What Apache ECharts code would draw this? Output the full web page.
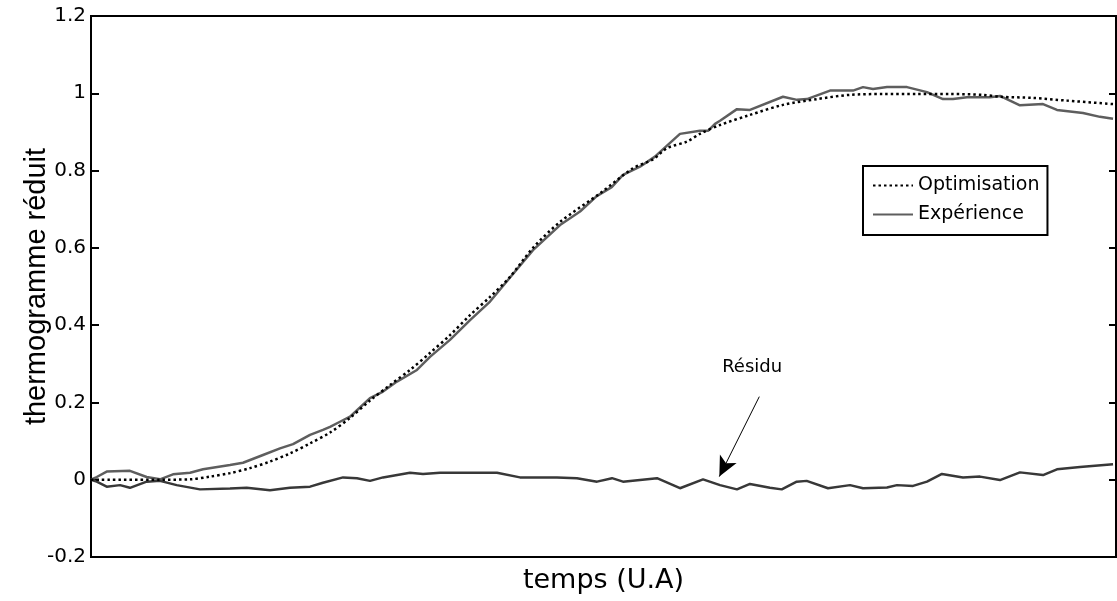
<!DOCTYPE html>
<html>
<head>
<meta charset="utf-8">
<script src="https://cdn.jsdelivr.net/npm/echarts@6/dist/echarts.min.js"></script>
<style>html,body{margin:0;padding:0;background:#fff;}#c{width:1117px;height:601px;}</style>
</head>
<body>
<div id="c"></div>
<script>
// Y tick labels
const yTicks = [-0.2, 0, 0.2, 0.4, 0.6, 0.8, 1, 1.2];

// Expérience (measured)
const expT = [0,0.56,1.53,3.80,5.43,6.73,8.00,9.66,10.93,13.56,14.83,16.78,18.44,19.71,21.37,22.63,23.32,24.29,25.27,27.22,28.49,29.85,31.80,33.07,35.02,36.98,38.93,40.68,43.12,45.76,47.71,49.34,50.80,51.90,53.56,55.02,56.17,57.46,59.41,60.20,60.88,61.37,63.02,64.29,67.51,68.88,69.85,72.10,74.34,75.32,76.29,77.66,79.61,81.56,83.12,84.10,85.46,87.71,88.68,90.63,92.88,94.24,96.78,98.44,99.71];
const expV = [0,0.007,0.021,0.023,0.007,0.001,0.014,0.018,0.027,0.038,0.044,0.064,0.081,0.092,0.116,0.129,0.137,0.150,0.163,0.211,0.228,0.254,0.284,0.318,0.362,0.413,0.461,0.517,0.594,0.659,0.694,0.734,0.757,0.789,0.810,0.836,0.864,0.895,0.903,0.903,0.921,0.929,0.959,0.957,0.991,0.983,0.985,1.007,1.007,1.016,1.011,1.016,1.016,1.003,0.985,0.985,0.990,0.990,0.993,0.969,0.972,0.957,0.949,0.939,0.934];

// Optimisation (model)
const optT = [0,6.73,9.66,11.61,13.56,15.51,17.46,19.41,21.37,23.32,25.27,27.22,29.17,31.12,33.07,35.02,36.98,38.93,40.88,43.12,45.76,49.66,52.88,54.83,56.20,58.15,59.41,61.37,64.29,67.51,70.83,74.05,77.27,80.59,83.80,87.02,88.68,91.90,95.22,99.71];
const optV = [0,0,0.001,0.008,0.017,0.030,0.047,0.068,0.094,0.122,0.160,0.205,0.245,0.284,0.328,0.374,0.426,0.473,0.525,0.600,0.667,0.741,0.806,0.829,0.858,0.875,0.895,0.918,0.944,0.970,0.985,0.996,0.998,0.998,0.998,0.996,0.991,0.988,0.981,0.972];

// Résidu
const resT = [0,0.56,1.53,2.83,3.80,5.43,6.73,8.36,10.63,13.56,15.19,17.46,19.41,21.37,22.63,24.59,25.95,27.22,28.49,31.12,32.39,34.05,36.98,39.61,41.85,45.46,47.41,49.37,50.83,51.90,55.22,57.46,59.71,61.37,63.02,64.29,66.24,67.39,68.85,69.82,71.90,74.05,75.32,77.66,78.63,80.20,81.56,83.02,85.07,86.73,88.68,90.63,92.88,94.24,96.49,99.71];
const resV = [0,-0.005,-0.018,-0.014,-0.021,-0.005,-0.003,-0.014,-0.025,-0.023,-0.021,-0.027,-0.021,-0.018,-0.008,0.006,0.004,-0.003,0.006,0.018,0.015,0.018,0.018,0.018,0.006,0.006,0.004,-0.005,0.004,-0.005,0.004,-0.022,0.001,-0.014,-0.025,-0.011,-0.021,-0.025,-0.005,-0.003,-0.022,-0.014,-0.022,-0.020,-0.014,-0.016,-0.005,0.015,0.006,0.008,-0.001,0.019,0.012,0.027,0.033,0.040];

const zip = (a, b) => a.map((t, i) => [t, b[i]]);
const H = "'DejaVu Sans', 'Liberation Sans', Arial, sans-serif";

const chart = echarts.init(document.getElementById('c'), null, {renderer: 'canvas'});
chart.setOption({
  animation: false,
  backgroundColor: '#fff',
  grid: {left: 91, right: 1, top: 16, bottom: 44, show: true, borderColor: '#000', borderWidth: 2, backgroundColor: 'transparent'},
  legend: {
    orient: 'vertical', left: 863, top: 166,
    padding: [10, 8, 11, 9], itemGap: 10, itemWidth: 40, itemHeight: 18,
    borderColor: '#000', borderWidth: 2, backgroundColor: '#fff',
    itemStyle: {opacity: 0},
    textStyle: {fontFamily: H, fontSize: 19, color: '#000'},
    data: ['Optimisation', 'Expérience']
  },
  xAxis: {
    type: 'value', min: 0, max: 100,
    name: 'temps (U.A)', nameLocation: 'middle', nameGap: 10, nameMoveOverlap: false,
    nameTextStyle: {fontFamily: H, fontSize: 27, color: '#000'},
    axisLine: {show: true, onZero: false, lineStyle: {color: '#000', width: 2}},
    axisTick: {show: false}, axisLabel: {show: false}, splitLine: {show: false}
  },
  yAxis: [{
    type: 'value', min: -0.2, max: 1.2, interval: 0.2,
    name: 'thermogramme réduit', nameLocation: 'middle', nameGap: 40, nameMoveOverlap: false,
    nameTextStyle: {fontFamily: "'Liberation Sans', Arial, sans-serif", fontSize: 29, color: '#000'},
    axisLine: {show: true, onZero: false, lineStyle: {color: '#000', width: 2}},
    axisTick: {show: true, inside: true, length: 8, lineStyle: {color: '#000', width: 2}},
    axisLabel: {fontFamily: H, fontSize: 20, color: '#000', margin: 5,
      formatter: v => { const r = Math.round(v * 10) / 10; return yTicks.indexOf(r) >= 0 ? String(r) : ''; }},
    splitLine: {show: false}
  }, {
    type: 'value', min: -0.2, max: 1.2, interval: 0.2, position: 'right',
    axisLine: {show: true, onZero: false, lineStyle: {color: '#000', width: 2}},
    axisTick: {show: true, inside: true, length: 7, lineStyle: {color: '#000', width: 2}},
    axisLabel: {show: false}, splitLine: {show: false}
  }],
  series: [{
    name: 'Optimisation', type: 'line', smooth: 0.3, symbol: 'none',
    data: zip(optT, optV),
    lineStyle: {color: '#000', width: 2.5, type: [2.5, 3]},
    itemStyle: {color: '#000'}, z: 3
  }, {
    name: 'Expérience', type: 'line', symbol: 'none',
    data: zip(expT, expV),
    lineStyle: {color: '#5e5e5e', width: 2.5},
    itemStyle: {color: '#5e5e5e'}, z: 2
  }, {
    name: 'Résidu', type: 'line', symbol: 'none',
    data: zip(resT, resV),
    lineStyle: {color: '#383838', width: 2.5},
    itemStyle: {color: '#383838'}, z: 2,
    markLine: {
      silent: true, symbol: ['none', 'arrow'], symbolSize: [14, 20],
      lineStyle: {color: '#000', width: 1, type: 'solid'},
      label: {show: false},
      data: [[{coord: [65.2, 0.215]}, {coord: [61.3, 0.008]}]]
    },
    markPoint: {
      silent: true, symbol: 'circle', symbolSize: 0,
      label: {show: true, position: 'inside', formatter: 'Résidu', fontFamily: H, fontSize: 18, color: '#000'},
      data: [{coord: [64.5, 0.29]}]
    }
  }]
});
</script>
</body>
</html>
